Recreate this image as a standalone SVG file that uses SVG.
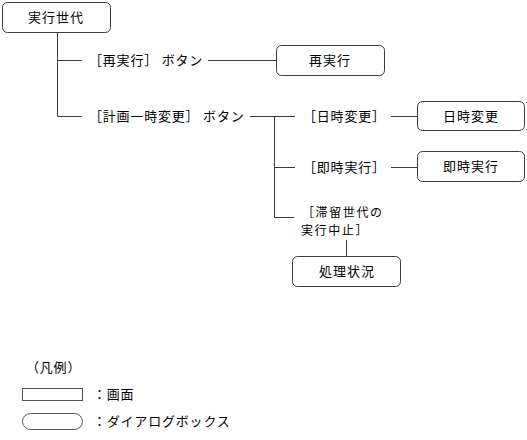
<svg xmlns="http://www.w3.org/2000/svg" width="527" height="440" viewBox="0 0 527 440">
<style>
text{font-family:"Noto Sans CJK JP","Noto Sans CJK SC",sans-serif;font-size:13px;fill:#000;letter-spacing:0.8px}
.box{fill:#fff;stroke:#3a3a3a;stroke-width:1}
.bt{text-anchor:middle;letter-spacing:1px}
.ln{stroke:#3a3a3a;stroke-width:1;fill:none}
.sm{font-size:12px;letter-spacing:1.6px}
</style>
<rect width="527" height="440" fill="#fff"/>
<g id="connectors">
<path class="ln" d="M57.5 33 V116.5 M57.5 60.5 H82 M57.5 116.5 H82"/>
<path class="ln" d="M208 60.5 H276"/>
<path class="ln" d="M250 116.5 H295 M274.5 116.5 V217.5 M274.5 167.5 H295 M274.5 217.5 H294"/>
<path class="ln" d="M391 116.5 H417 M391 167.5 H417"/>
<path class="ln" d="M346.5 240 V256"/>
</g>
<g id="n-root"><rect class="box" x="2.5" y="2.5" width="108" height="30" rx="5"/><text class="bt" x="56" y="22">実行世代</text></g>
<g id="n-rerun-btn"><text x="89" y="65">［再実行］ ボタン</text></g>
<g id="n-rerun"><rect class="box" x="276.5" y="45.5" width="108" height="30" rx="5"/><text class="bt" x="330" y="65">再実行</text></g>
<g id="n-pause-btn"><text x="89" y="121">［計画一時変更］ ボタン</text></g>
<g id="n-datechg-btn"><text x="303" y="121">［日時変更］</text></g>
<g id="n-datechg"><rect class="box" x="417.5" y="101.5" width="107" height="29" rx="5"/><text class="bt" x="471" y="121">日時変更</text></g>
<g id="n-now-btn"><text x="303" y="172">［即時実行］</text></g>
<g id="n-now"><rect class="box" x="417.5" y="151.5" width="107" height="30" rx="5"/><text class="bt" x="471" y="171">即時実行</text></g>
<g id="n-stop-btn"><text class="sm" x="302" y="217">［滞留世代の</text><text class="sm" x="301" y="235">実行中止］</text></g>
<g id="n-status"><rect class="box" x="292.5" y="256.5" width="108" height="30" rx="5"/><text class="bt" x="347" y="276">処理状況</text></g>
<g id="legend">
<text x="26" y="372">（凡例）</text>
<rect x="22.5" y="388.5" width="60" height="12" fill="#fff" stroke="#555"/>
<text x="93" y="399">：画面</text>
<rect x="22.5" y="413.5" width="60" height="16" rx="8" fill="#fff" stroke="#555"/>
<text x="93" y="426">：ダイアログボックス</text>
</g>
</svg>
